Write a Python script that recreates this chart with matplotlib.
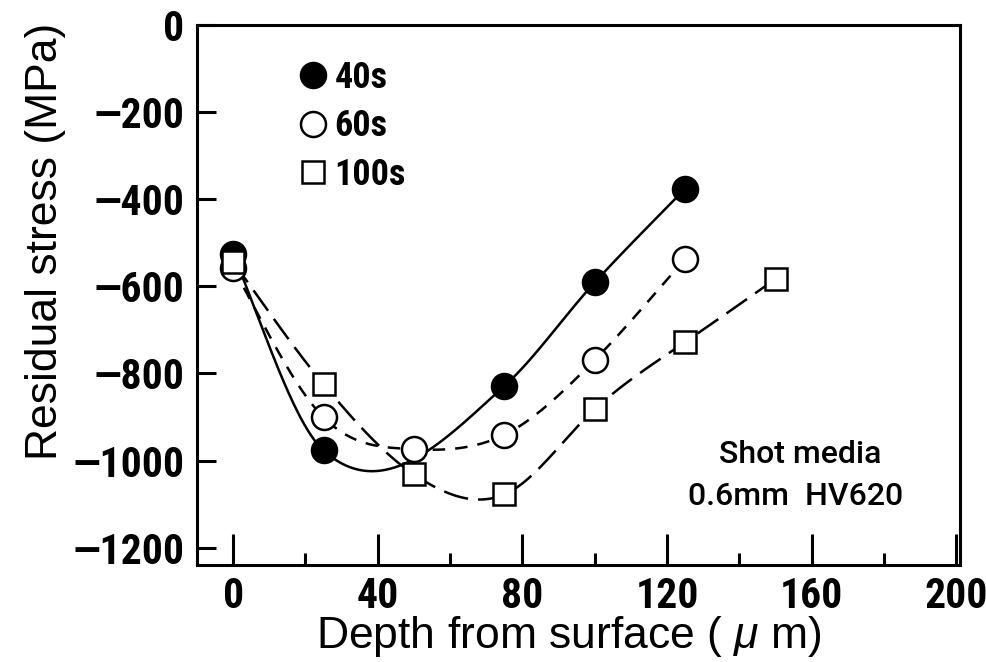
import numpy as np
import matplotlib.pyplot as plt
from matplotlib.ticker import MultipleLocator

# depth (um) and residual stress (MPa) for each shot peening time
depth_40 = [0, 25, 75, 100, 125]
stress_40 = [-526, -977, -829, -591, -376]

depth_60 = [0, 25, 50, 75, 100, 125]
stress_60 = [-558, -901, -974, -941, -769, -537]

depth_100 = [0, 25, 50, 75, 100, 125, 150]
stress_100 = [-544, -825, -1032, -1078, -882, -728, -583]

x_ticks = [0, 40, 80, 120, 160, 200]
y_ticks = [0, -200, -400, -600, -800, -1000, -1200]


def natural_spline(x, y, xs):
    k = len(x)
    h = np.diff(x)
    A = np.zeros((k, k))
    b = np.zeros(k)
    A[0, 0] = A[-1, -1] = 1
    for i in range(1, k - 1):
        A[i, i - 1] = h[i - 1]
        A[i, i] = 2 * (h[i - 1] + h[i])
        A[i, i + 1] = h[i]
        b[i] = 3 * ((y[i + 1] - y[i]) / h[i] - (y[i] - y[i - 1]) / h[i - 1])
    c = np.linalg.solve(A, b)
    i = np.clip(np.searchsorted(x, xs) - 1, 0, k - 2)
    d = xs - x[i]
    bb = (y[i + 1] - y[i]) / h[i] - h[i] * (2 * c[i] + c[i + 1]) / 3
    dd = (c[i + 1] - c[i]) / (3 * h[i])
    return y[i] + bb * d + c[i] * d**2 + dd * d**3


def hermite(x, y, xs):
    # catmull-rom style tangents
    m = np.empty_like(y)
    m[0] = (y[1] - y[0]) / (x[1] - x[0])
    m[-1] = (y[-1] - y[-2]) / (x[-1] - x[-2])
    m[1:-1] = (y[2:] - y[:-2]) / (x[2:] - x[:-2])
    i = np.clip(np.searchsorted(x, xs) - 1, 0, len(x) - 2)
    h = x[i + 1] - x[i]
    t = (xs - x[i]) / h
    h00 = 2 * t**3 - 3 * t**2 + 1
    h10 = t**3 - 2 * t**2 + t
    h01 = -2 * t**3 + 3 * t**2
    h11 = t**3 - t**2
    return h00 * y[i] + h10 * h * m[i] + h01 * y[i + 1] + h11 * h * m[i + 1]


def smooth_curve(x, y):
    x = np.asarray(x, float)
    y = np.asarray(y, float)
    xs = np.linspace(x[0], x[-1], 400)
    return xs, 0.5 * (natural_spline(x, y, xs) + hermite(x, y, xs))


cond = ['Roboto Condensed', 'DejaVu Sans']
plt.rcParams['font.family'] = ['Liberation Sans', 'DejaVu Sans']
plt.rcParams['mathtext.fontset'] = 'custom'
plt.rcParams['mathtext.it'] = 'Liberation Sans:italic'
plt.rcParams['mathtext.rm'] = 'Liberation Sans'

fig = plt.figure(figsize=(9.87, 6.62), dpi=100)
ax = fig.add_axes([0.1996, 0.1465, 0.773, 0.8157])

lw = 1.8
xs, ys = smooth_curve(depth_40, stress_40)
ax.plot(xs, ys, color='black', lw=lw, ls='-')
xs, ys = smooth_curve(depth_60, stress_60)
ax.plot(xs, ys, color='black', lw=lw, ls=(0, (5, 4)))
xs, ys = smooth_curve(depth_100, stress_100)
ax.plot(xs, ys, color='black', lw=lw, ls=(0, (10, 4)))

ax.plot(depth_40, stress_40, 'o', ms=18, mfc='black', mec='black', mew=1.8,
        ls='none', label='40s', zorder=3)
ax.plot(depth_60, stress_60, 'o', ms=18, mfc='white', mec='black', mew=1.8,
        ls='none', label='60s', zorder=4)
ax.plot(depth_100, stress_100, 's', ms=16, mfc='white', mec='black', mew=1.8,
        ls='none', label='100s', zorder=5)

ax.set_xlim(-10, 201)
ax.set_ylim(-1240, 0)
ax.set_xticks(x_ticks)
ax.xaxis.set_minor_locator(MultipleLocator(20))
ax.set_yticks(y_ticks)
ax.set_yticklabels(['0'] + ['\u2014' + str(-v) for v in y_ticks[1:]])
ax.set_xticklabels([str(v) for v in x_ticks])

for s in ax.spines.values():
    s.set_linewidth(2.2)
ax.tick_params(axis='y', which='major', direction='in', length=14, width=2.2,
               labelsize=30, pad=9)
ax.tick_params(axis='x', which='major', direction='in', length=22, width=2.2,
               labelsize=30, pad=8)
ax.tick_params(axis='x', which='minor', direction='in', length=9, width=2.2)
ax.tick_params(top=False, right=False)
for lab in ax.get_xticklabels() + ax.get_yticklabels():
    lab.set_family(cond)
    lab.set_fontweight('bold')

ax.set_xlabel('Depth from surface ( $\\mu$ m)', fontsize=32)
ax.set_ylabel('Residual stress (MPa)', fontsize=32)
ax.xaxis.set_label_coords(0.488, -0.09)
ax.yaxis.set_label_coords(-0.172, 0.6)

ax.legend(loc='upper left', bbox_to_anchor=(0.135, 0.935), frameon=False,
          borderaxespad=0, borderpad=0, handlelength=0.7, handletextpad=0.25,
          labelspacing=0.34, prop={'family': cond, 'weight': 'bold', 'size': 26})

ax.text(0.79, 0.204, 'Shot media', transform=ax.transAxes, ha='center',
        va='center', fontsize=23, family=['Roboto', 'DejaVu Sans'], fontweight='medium')
ax.text(0.784, 0.126, '0.6mm  HV620', transform=ax.transAxes, ha='center',
        va='center', fontsize=23, family=['Roboto', 'DejaVu Sans'], fontweight='medium')

fig.savefig('out.png', dpi=100)
